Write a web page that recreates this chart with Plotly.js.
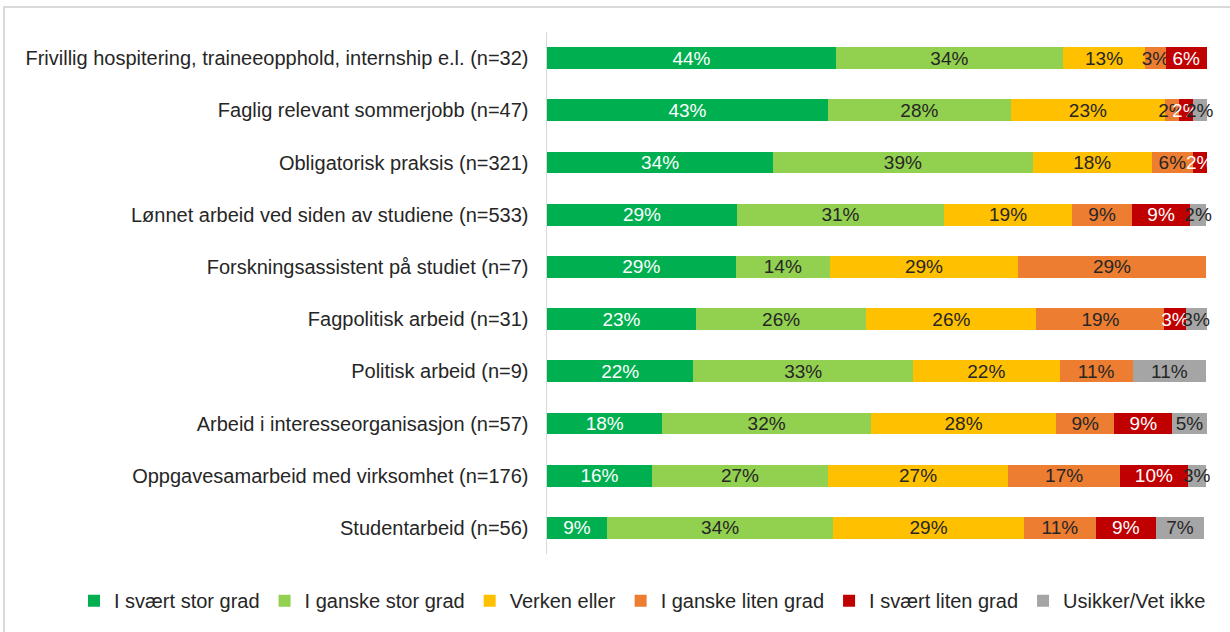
<!DOCTYPE html>
<html>
<head>
<meta charset="utf-8">
<script src="https://cdn.plot.ly/plotly-3.0.1.min.js"></script>
<style>
html,body{margin:0;padding:0;background:#fff;overflow:hidden;}
#frame{position:absolute;left:3px;top:6px;width:1300px;height:700px;border-left:2px solid #d9d9d9;border-top:2px solid #d9d9d9;}
#chart{position:absolute;left:0;top:0;width:1230px;height:632px;}
</style>
</head>
<body>
<div id="frame"></div>
<div id="chart"></div>
<script>
const categories = [
  "Frivillig hospitering, traineeopphold, internship e.l. (n=32)",
  "Faglig relevant sommerjobb (n=47)",
  "Obligatorisk praksis (n=321)",
  "Lønnet arbeid ved siden av studiene (n=533)",
  "Forskningsassistent på studiet (n=7)",
  "Fagpolitisk arbeid (n=31)",
  "Politisk arbeid (n=9)",
  "Arbeid i interesseorganisasjon (n=57)",
  "Oppgavesamarbeid med virksomhet (n=176)",
  "Studentarbeid (n=56)"
];
const seriesNames = ["I svært stor grad","I ganske stor grad","Verken eller","I ganske liten grad","I svært liten grad","Usikker/Vet ikke"];
const svaertStor   = [43.8, 42.6, 34.3, 28.8, 28.6, 22.6, 22.2, 17.5, 15.9,  9.1];
const ganskeStor   = [34.4, 27.7, 39.3, 31.4, 14.3, 25.8, 33.3, 31.6, 26.7, 34.3];
const verkenEller  = [12.5, 23.4, 18.1, 19.4, 28.5, 25.8, 22.2, 28.1, 27.3, 28.9];
const ganskeLiten  = [ 3.1,  2.1,  6.2,  9.1, 28.5, 19.4, 11.1,  8.8, 17.0, 10.9];
const svaertLiten  = [ 6.2,  2.1,  2.1,  8.8,  0.0,  3.2,  0.0,  8.8, 10.2,  9.1];
const usikker      = [ 0.0,  2.1,  0.0,  2.4,  0.0,  3.2, 11.1,  5.2,  2.8,  7.3];

const series = [svaertStor, ganskeStor, verkenEller, ganskeLiten, svaertLiten, usikker];
const colors = ["#00B050","#92D050","#FFC000","#ED7D31","#C00000","#A5A5A5"];
const textColors = ["#ffffff","#262626","#262626","#262626","#ffffff","#262626"];
const FONT = "'Liberation Sans', Arial, sans-serif";

const traces = series.map((vals, i) => ({
  type: "bar",
  orientation: "h",
  name: seriesNames[i],
  y: categories,
  x: vals,
  marker: {color: colors[i], line: {width: 0}},
  text: vals.map(v => v > 0 ? Math.round(v) + "%" : ""),
  texttemplate: "%{text}",
  textposition: "inside",
  insidetextanchor: "middle",
  textangle: 0,
  constraintext: "none",
  cliponaxis: false,
  textfont: {family: FONT, size: 19, color: textColors[i]},
  hoverinfo: "x+y+name"
}));

const layout = {
  width: 1230, height: 632,
  paper_bgcolor: "rgba(0,0,0,0)",
  plot_bgcolor: "rgba(0,0,0,0)",
  barmode: "stack",
  bargap: 0.58,
  margin: {l: 547, r: 23, t: 32, b: 74},
  font: {family: FONT, size: 19, color: "#262626"},
  uniformtext: {mode: "show", minsize: 19},
  xaxis: {range: [0, 100.05], visible: false, fixedrange: true},
  yaxis: {
    autorange: "reversed",
    showline: true, linecolor: "#d9d9d9", linewidth: 1.5,
    ticks: "", ticklabelstandoff: 13,
    tickfont: {family: FONT, size: 20, color: "#262626"},
    showgrid: false, zeroline: false
  },
  showlegend: true,
  legend: {
    orientation: "h",
    xref: "paper", x: -0.7167, xanchor: "left",
    yref: "paper", y: -0.0894, yanchor: "middle",
    font: {family: FONT, size: 20, color: "#262626"},
    itemwidth: 30,
    traceorder: "normal"
  }
};

Plotly.newPlot("chart", traces, layout, {displayModeBar: false, staticPlot: true});
</script>
</body>
</html>
